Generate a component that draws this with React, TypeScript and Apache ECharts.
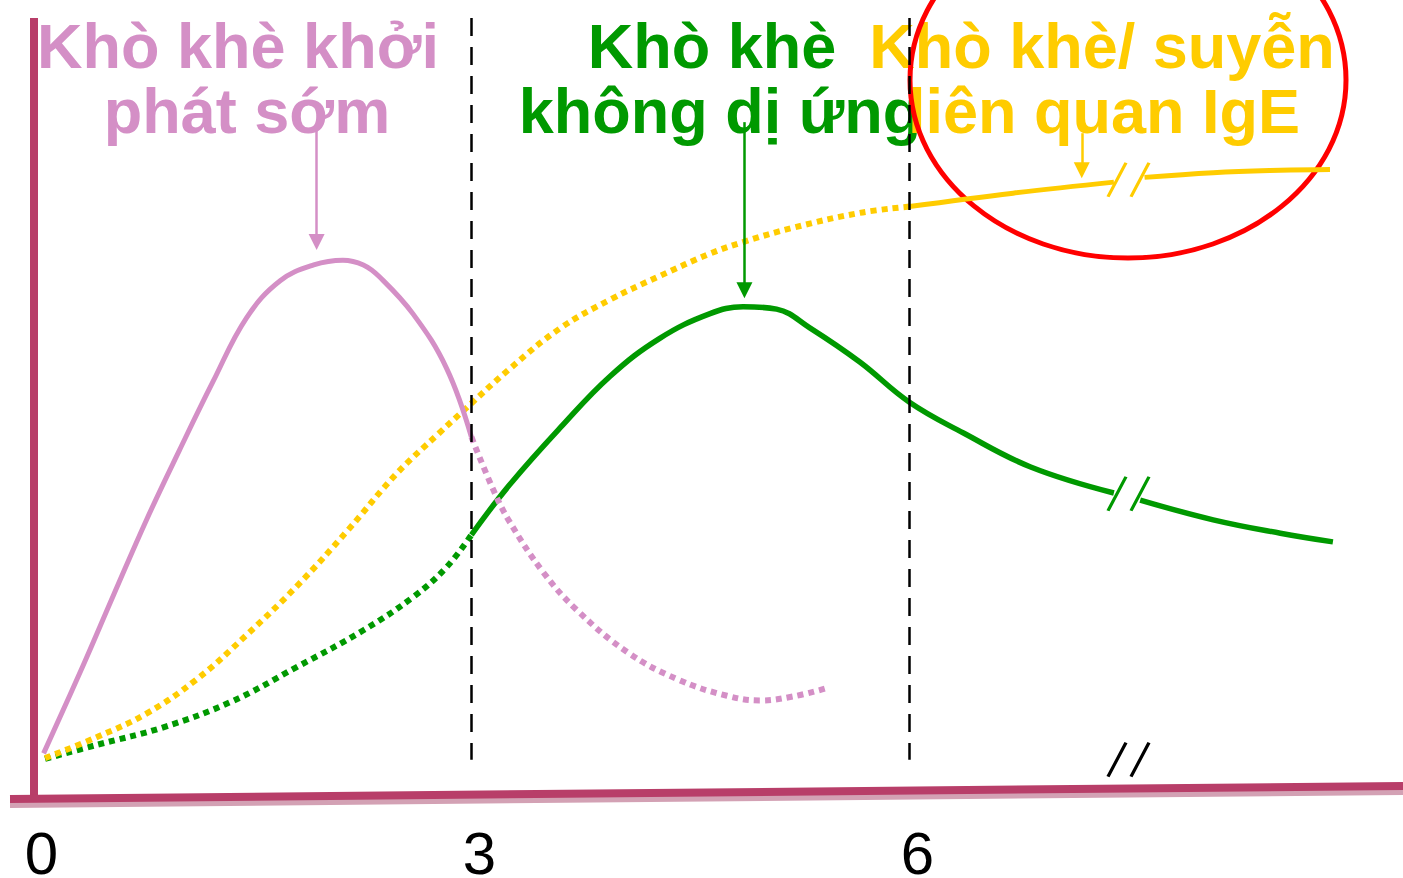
import React, { useEffect, useRef } from "react";
import * as echarts from "echarts";

// Age in years on x, relative prevalence (arbitrary units) on y
const X_TICKS = [0, 3, 6];

const PINK = "#d48fc6";
const GREEN = "#009900";
const YELLOW = "#ffcc00";
const AXIS = "#b83e69";

// Early transient wheeze
const pinkSolid = [
  [0.07, 6.8], [0.34, 17.9], [0.55, 26.9], [0.78, 36.6], [1.0, 45.2], [1.23, 53.9],
  [1.46, 62.0], [1.69, 66.7], [1.92, 68.7], [2.12, 69.3], [2.26, 68.7], [2.37, 67.2],
  [2.6, 62.5], [2.83, 55.6], [3.0, 46.9],
];
const pinkDotted = [
  [3.0, 46.9], [3.15, 40.2], [3.26, 36.2], [3.49, 29.8], [3.72, 25.0], [4.07, 19.6],
  [4.41, 16.2], [4.75, 14.1], [4.98, 13.5], [5.2, 14.0], [5.42, 15.0],
];

// IgE-associated wheeze / asthma
const yellowDotted = [
  [0.08, 6.2], [0.44, 8.9], [0.78, 11.9], [1.12, 16.2], [1.46, 21.8], [1.81, 28.1],
  [2.15, 35.0], [2.49, 42.3], [2.78, 47.4], [2.92, 49.8], [3.26, 55.5], [3.61, 60.7],
  [3.95, 64.3], [4.29, 67.3], [4.63, 70.1], [4.86, 71.6], [5.2, 73.4], [5.66, 75.3],
  [6.0, 76.1],
];
const yellowSolidA = [[6.0, 76.1], [6.71, 77.8], [7.4, 79.2]];
const yellowSolidB = [[7.61, 79.8], [8.08, 80.4], [8.54, 80.7], [8.88, 80.8]];

// Non-atopic wheeze
const greenDotted = [
  [0.08, 6.1], [0.44, 7.9], [0.89, 10.1], [1.35, 13.3], [1.8, 17.7], [2.26, 22.4],
  [2.6, 26.6], [2.83, 30.4], [3.0, 34.5],
];
const greenSolidA = [
  [3.0, 34.5], [3.26, 40.8], [3.61, 48.1], [3.95, 54.6], [4.29, 59.4], [4.63, 62.5],
  [4.86, 63.4], [5.09, 63.1], [5.32, 60.7], [5.66, 56.4], [6.0, 51.3], [6.37, 47.4],
  [6.83, 43.1], [7.4, 39.8],
];
const greenSolidB = [[7.58, 38.9], [8.08, 36.4], [8.54, 34.7], [8.9, 33.6]];

// Age boundaries and axis break
const BOUNDARIES = [3, 6];
const BOUNDARY_TOP = 100;
const BOUNDARY_BOTTOM = 6.0;
const BREAK_X = 7.5;
const BREAK_Y = { yellow: 79.5, green: 39.7, axis: 6.0 };

// Pointer arrows: [x, from y, to y]
const ARROW_PINK = [1.94, 85.8, 71.6];
const ARROW_GREEN = [4.87, 86.8, 65.5];
const ARROW_YELLOW = [7.18, 85.4, 80.7];

// Phenotype captions, one entry per line: [text, centre x, baseline y]
const PINK_LABEL: [string, number, number][] = [
  ["Khò khè khởi", 238, 68],
  ["phát sớm", 247, 133],
];
const GREEN_LABEL: [string, number, number][] = [
  ["Khò khè", 712, 68],
  ["không dị ứng", 720, 133],
];
const YELLOW_LABEL: [string, number, number][] = [
  ["Khò khè/ suyễn", 1102, 68],
  ["liên quan IgE", 1104, 133],
];

const FONT_FAMILY = '"Liberation Sans", Arial, Helvetica, sans-serif';
const BREAK_SYMBOL = "path://M0 34L18 0M23 34L41 0";

function captionTexts(lines: [string, number, number][], color: string) {
  return lines.map(([text, x, baseline]) => ({
    type: "text",
    z: 0,
    x,
    y: baseline - 22,
    style: {
      text,
      fill: color,
      font: `bold 63px ${FONT_FAMILY}`,
      align: "center",
      verticalAlign: "middle",
    },
  }));
}

function arrowMarkLine(arrow: number[], color: string) {
  return {
    silent: true,
    symbol: ["none", "triangle"],
    symbolSize: [16, 16],
    label: { show: false },
    emphasis: { disabled: true },
    lineStyle: { color, width: 2.5, type: "solid" },
    data: [[{ coord: [arrow[0], arrow[1]] }, { coord: [arrow[0], arrow[2]] }]],
  };
}

function breakMarkPoint(y: number, color: string) {
  return {
    silent: true,
    symbol: BREAK_SYMBOL,
    symbolSize: [41, 34],
    label: { show: false },
    itemStyle: { color: "none", borderColor: color, borderWidth: 3 },
    data: [{ coord: [BREAK_X, y] }],
  };
}

function lineSeries(name: string, data: number[][], color: string, width: number, dash?: number[]) {
  return {
    name,
    type: "line",
    data,
    smooth: 0.4,
    showSymbol: false,
    symbol: "none",
    clip: false,
    silent: true,
    lineStyle: { color, width, type: dash ?? "solid", cap: "butt", join: "round" },
  };
}

export default function App() {
  const ref = useRef<HTMLDivElement>(null);

  useEffect(() => {
    if (!ref.current) return;
    const chart = echarts.init(ref.current, undefined, { renderer: "svg" });

    const option: any = {
      animation: false,
      backgroundColor: "#ffffff",
      grid: { left: 10, right: 0, top: 18, bottom: 71, containLabel: false, outerBoundsMode: "none" },
      xAxis: {
        type: "value",
        min: -0.16,
        max: 9.38,
        axisLine: { show: false },
        axisTick: { show: false },
        splitLine: { show: false },
        axisLabel: {
          customValues: X_TICKS,
          color: "#000000",
          fontSize: 60,
          lineHeight: 44,
          fontFamily: FONT_FAMILY,
          margin: 24,
          padding: [0, 0, 0, 16],
        },
      },
      yAxis: {
        type: "value",
        min: 0,
        max: 100,
        axisLine: { show: true, onZero: true, lineStyle: { color: AXIS, width: 8, cap: "butt" } },
        axisTick: { show: false },
        axisLabel: { show: false },
        splitLine: { show: false },
      },
      series: [
        {
          ...lineSeries("boundaries", greenDotted, GREEN, 6, [6, 5]),
          markLine: {
            silent: true,
            symbol: ["none", "none"],
            label: { show: false },
            emphasis: { disabled: true },
            lineStyle: { color: "#000000", width: 2.5, type: [18, 11] },
            data: BOUNDARIES.map((b) => [{ coord: [b, BOUNDARY_TOP] }, { coord: [b, BOUNDARY_BOTTOM] }]),
          },
          markPoint: breakMarkPoint(BREAK_Y.axis, "#000000"),
        },
        lineSeries("yellowDotted", yellowDotted, YELLOW, 6, [6, 5]),
        {
          ...lineSeries("yellowA", yellowSolidA, YELLOW, 5),
          markLine: arrowMarkLine(ARROW_YELLOW, YELLOW),
          markPoint: breakMarkPoint(BREAK_Y.yellow, YELLOW),
        },
        lineSeries("yellowB", yellowSolidB, YELLOW, 5),
        {
          ...lineSeries("greenA", greenSolidA, GREEN, 5.5),
          markLine: arrowMarkLine(ARROW_GREEN, GREEN),
          markPoint: breakMarkPoint(BREAK_Y.green, GREEN),
        },
        lineSeries("greenB", greenSolidB, GREEN, 5.5),
        lineSeries("pinkDotted", pinkDotted, PINK, 6, [6, 5]),
        {
          ...lineSeries("pinkSolid", pinkSolid, PINK, 5),
          markLine: arrowMarkLine(ARROW_PINK, PINK),
        },
      ],
      graphic: [
        ...captionTexts(PINK_LABEL, PINK),
        ...captionTexts(GREEN_LABEL, GREEN),
        ...captionTexts(YELLOW_LABEL, YELLOW),
        {
          type: "ellipse",
          z: 1,
          shape: { cx: 1128, cy: 80, rx: 218, ry: 178 },
          style: { fill: "none", stroke: "#ff0000", lineWidth: 5 },
          silent: true,
        },
        // slanted time axis with its soft shadow
        {
          type: "line",
          z: 5,
          shape: { x1: 10, y1: 805, x2: 1403, y2: 792 },
          style: { stroke: "#d3a1b4", lineWidth: 6 },
          silent: true,
        },
        {
          type: "line",
          z: 6,
          shape: { x1: 10, y1: 799, x2: 1403, y2: 786 },
          style: { stroke: AXIS, lineWidth: 8 },
          silent: true,
        },
      ],
    };

    chart.setOption(option);
    return () => chart.dispose();
  }, []);

  return (
    <div
      ref={ref}
      style={{ position: "fixed", left: 0, top: 0, width: 1403, height: 878, background: "#fff" }}
    />
  );
}
